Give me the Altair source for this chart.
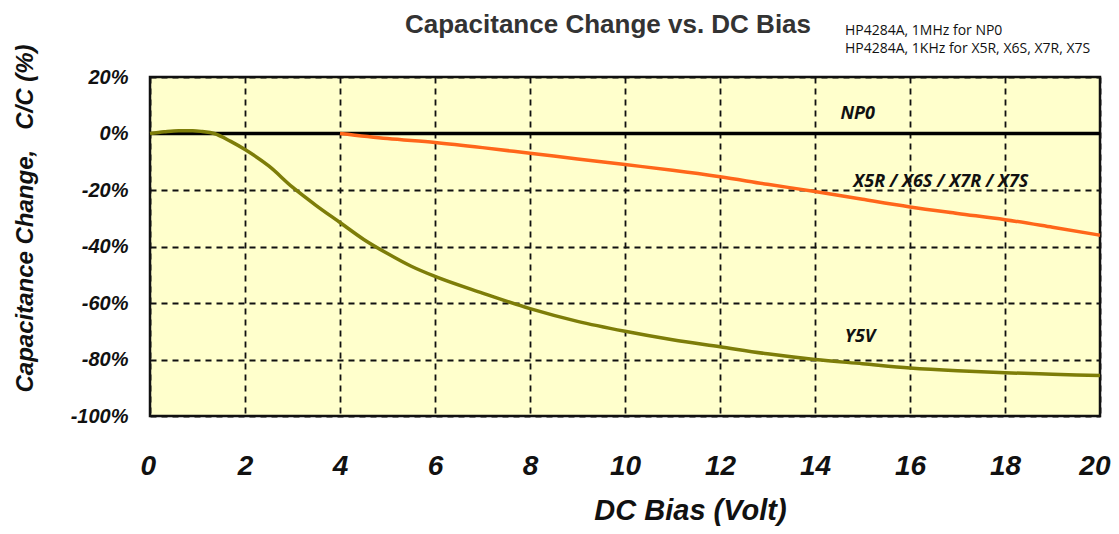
import altair as alt
import pandas as pd

# ---- data ----
y5v_x = [0, 0.3, 0.6, 0.9, 1.1, 1.35, 1.7, 2, 2.5, 3, 3.5, 4, 4.5, 5, 5.5, 6, 7, 8, 9, 10, 11, 12, 13, 14, 15, 16, 17, 18, 19, 20]
y5v_y = [0, 0.6, 1.0, 1.0, 0.7, 0, -2.8, -5.7, -11.5, -19, -25.5, -31.5, -37.5, -42.5, -47, -50.6, -56.5, -62, -66.5, -70, -73, -75.5, -78, -80, -81.5, -83, -84, -84.7, -85.2, -85.7]

x5r_x = [4, 5, 6, 7, 8, 9, 10, 11, 12, 13, 14, 15, 16, 17, 18, 19, 20]
x5r_y = [0, -1.8, -3.2, -5, -7, -9, -11, -13, -15.3, -18, -20.5, -23.3, -26, -28.3, -30.5, -33.2, -36]

np0_x = [0, 20]
np0_y = [0, 0]

series_names = ["NP0", "X5R / X6S / X7R / X7S", "Y5V"]
series_colors = ["#000000", "#FF661A", "#7D7D08"]

label_text = ["NP0", "X5R / X6S / X7R / X7S", "Y5V"]
label_x = [14.9, 16.65, 14.95]
label_y = [7, -17, -72]

note_text = ["HP4284A, 1MHz for NP0", "HP4284A, 1KHz for X5R, X6S, X7R, X7S"]
note_x = [14.63, 14.63]
note_y = [36.3, 29.8]

x_ticks = [0, 2, 4, 6, 8, 10, 12, 14, 16, 18, 20]
y_ticks = [-100, -80, -60, -40, -20, 0, 20]

rows = []
for xv, yv in zip(np0_x, np0_y):
    rows.append({"series": series_names[0], "bias": xv, "change": yv})
for xv, yv in zip(x5r_x, x5r_y):
    rows.append({"series": series_names[1], "bias": xv, "change": yv})
for xv, yv in zip(y5v_x, y5v_y):
    rows.append({"series": series_names[2], "bias": xv, "change": yv})
df = pd.DataFrame(rows)

labels_df = pd.DataFrame({"text": label_text, "bias": label_x, "change": label_y})
notes_df = pd.DataFrame({"text": note_text, "bias": note_x, "change": note_y})

x_scale = alt.Scale(domain=[0, 20], nice=False, zero=False)
y_scale = alt.Scale(domain=[-100, 20], nice=False, zero=False)

x_axis = alt.Axis(
    values=x_ticks, title="DC Bias (Volt)", grid=True, ticks=False, domain=False,
    labelFont="Liberation Sans", labelFontSize=28, labelFontWeight="bold",
    labelFontStyle="italic", labelColor="#111111", labelPadding=36,
    labelFlush=True, labelFlushOffset=10,
    titleFont="Liberation Sans", titleFontSize=29, titleFontWeight="bold",
    titleFontStyle="italic", titleColor="#111111",
    titleX=540, titleY=103, titleAlign="center", titleBaseline="alphabetic",
)
y_axis = alt.Axis(
    values=y_ticks, title="Capacitance Change,\u00a0\u00a0\u00a0C/C (%)", grid=True, ticks=False, domain=False,
    labelExpr="datum.value + '%'",
    labelFont="Liberation Sans", labelFontSize=20, labelFontWeight="bold",
    labelFontStyle="italic", labelColor="#111111", labelPadding=22, labelFlush=False,
    titleFont="Liberation Sans", titleFontSize=24, titleFontWeight="bold",
    titleFontStyle="italic", titleColor="#111111",
    titleX=-125, titleY=141, titleAngle=270, titleAlign="center", titleBaseline="middle",
)

lines = alt.Chart(df).mark_line(strokeWidth=3.5, interpolate="monotone").encode(
    x=alt.X("bias:Q", scale=x_scale, axis=x_axis),
    y=alt.Y("change:Q", scale=y_scale, axis=y_axis),
    color=alt.Color("series:N", scale=alt.Scale(domain=series_names, range=series_colors), legend=None),
    detail="series:N",
)

labels = alt.Chart(labels_df).mark_text(
    font="Open Sans", fontSize=18, fontWeight="bold", fontStyle="italic",
    color="#111111", align="center", baseline="middle",
).encode(
    x=alt.X("bias:Q", scale=x_scale),
    y=alt.Y("change:Q", scale=y_scale),
    text="text:N",
)

notes = alt.Chart(notes_df).mark_text(
    font="Open Sans", fontSize=14, color="#111111", align="left", baseline="middle",
).encode(
    x=alt.X("bias:Q", scale=x_scale),
    y=alt.Y("change:Q", scale=y_scale),
    text="text:N",
)

chart = alt.layer(lines, labels, notes).properties(
    width=950, height=339,
    padding={"left": 142, "top": 69, "right": 11, "bottom": 110},
    autosize=alt.AutoSizeParams(type="none"),
    background="#FFFFFF",
    title=alt.TitleParams(
        "Capacitance Change vs. DC Bias", anchor="middle", dx=-17,
        font="Liberation Sans", fontSize=26, fontWeight="bold", color="#333333",
        offset=0, dy=14,
    ),
).configure_view(
    fill="#FFFFCC", stroke="#111111", strokeWidth=2.5,
).configure_axis(
    gridColor="#111111", gridDash=[6, 5], gridWidth=1.8, gridOpacity=1,
)

chart.save("out.html", embed_options={"renderer": "svg", "actions": False})
